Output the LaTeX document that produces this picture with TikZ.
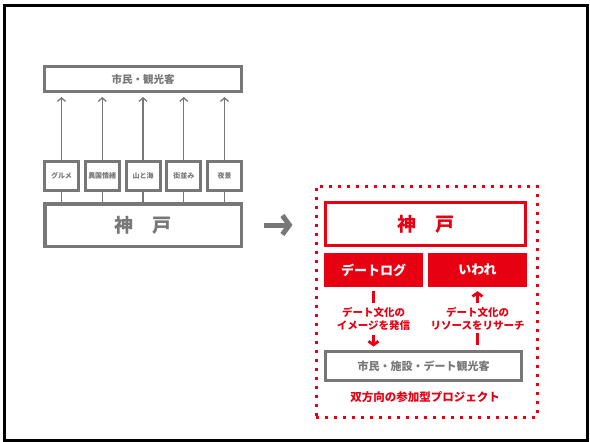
\documentclass[tikz,border=0pt]{standalone}
\usepackage{fontspec}
\newfontfamily\jp{Noto Sans CJK JP}
\usetikzlibrary{arrows.meta}
\definecolor{gry}{HTML}{777777}
\definecolor{rd}{HTML}{E60012}
\tikzset{
  gbox/.style={draw=gry, line width=3pt, inner sep=0pt, text=gry},
  sbox/.style={gbox, minimum width=34pt, minimum height=29pt, font=\jp\bfseries\fontsize{7}{8}\selectfont},
  gline/.style={gry, line width=1.3pt},
  garrow/.style={gline, -{Straight Barb[length=3.5pt,width=8pt]}, shorten >=4pt},
  rbox/.style={fill=rd, text=white, inner sep=0pt, minimum width=99pt, minimum height=34pt, font=\jp\bfseries\fontsize{13}{15}\selectfont},
  rtxt/.style={text=rd, inner sep=0pt, align=center, font=\jp\bfseries\fontsize{10.5}{13}\selectfont},
  rline/.style={rd, line width=2.8pt},
  rarrow/.style={rline, -{Straight Barb[length=3.5pt,width=10pt]}},
}
\begin{document}
\begin{tikzpicture}[x=1pt,y=-1pt]
\useasboundingbox (0,0) rectangle (590,442);
\draw[line width=3pt] (4.5,5.5) rectangle (587.5,440.5);

% left diagram
\node[gbox, minimum width=197pt, minimum height=25pt, font=\jp\bfseries\fontsize{10.5}{12}\selectfont] (pub) at (143,79) {市民・観光客};
\node[sbox] (s1) at (61.5,176) {グルメ};
\node[sbox] (s2) at (102.25,176) {異国情緒};
\node[sbox] (s3) at (143,176) {山と海};
\node[sbox] (s4) at (183.75,176) {街並み};
\node[sbox] (s5) at (224.5,176) {夜景};
\node[gbox, line width=3.5pt, minimum width=196.5pt, minimum height=42.5pt, font=\jp\bfseries\fontsize{19}{21}\selectfont] (kobe) at (143,225) {神　戸};
\foreach \s in {s1,s2,s3,s4,s5}{
  \draw[garrow] (\s.north) -- (\s.north |- pub.south);
  \draw[gline] (\s.south) -- (\s.south |- kobe.north);
}

% project frame and big arrow
\node[draw=rd, line width=3pt, dash pattern=on 3pt off 6pt, minimum width=221pt, minimum height=231pt, inner sep=0pt] (proj) at (426.5,301.5) {};
\draw[gry, line width=5pt, shorten <=21pt, shorten >=22pt, -{Straight Barb[length=7pt,width=19pt]}] (kobe.east) -- (kobe.east -| proj.west);

% right diagram
\node[draw=rd, line width=3pt, text=rd, inner sep=0pt, minimum width=200pt, minimum height=43pt, font=\jp\bfseries\fontsize{19}{21}\selectfont] (rkobe) at (425.5,224) {神　戸};
\node[rbox] (dl) at (373.5,270) {デートログ};
\node[rbox] (iw) at (477.5,270) {いわれ};
\node[rtxt] (t1) at (373.5,318.5) {デート文化の\\イメージを発信};
\node[rtxt] (t2) at (477.5,318.5) {デート文化の\\リソースをリサーチ};
\node[gbox, minimum width=196pt, minimum height=29pt, font=\jp\bfseries\fontsize{11}{13}\selectfont] (bot) at (423.5,366) {市民・施設・デート観光客};
\node[text=rd, inner sep=0pt, font=\jp\bfseries\fontsize{11.5}{13}\selectfont] (cap) at (425,397) {双方向の参加型プロジェクト};

\draw[rline, shorten <=4pt, shorten >=4pt] (dl.south) -- (t1.north -| dl.south);
\draw[rarrow, shorten <=5pt, shorten >=3.5pt] (t1.south) -- (t1.south |- bot.north);
\draw[rarrow, shorten <=4pt, shorten >=4pt] (t2.north) -- (t2.north |- iw.south);
\draw[rline, shorten <=3pt, shorten >=5pt] (t2.south) -- (t2.south |- bot.north);
\end{tikzpicture}
\end{document}
